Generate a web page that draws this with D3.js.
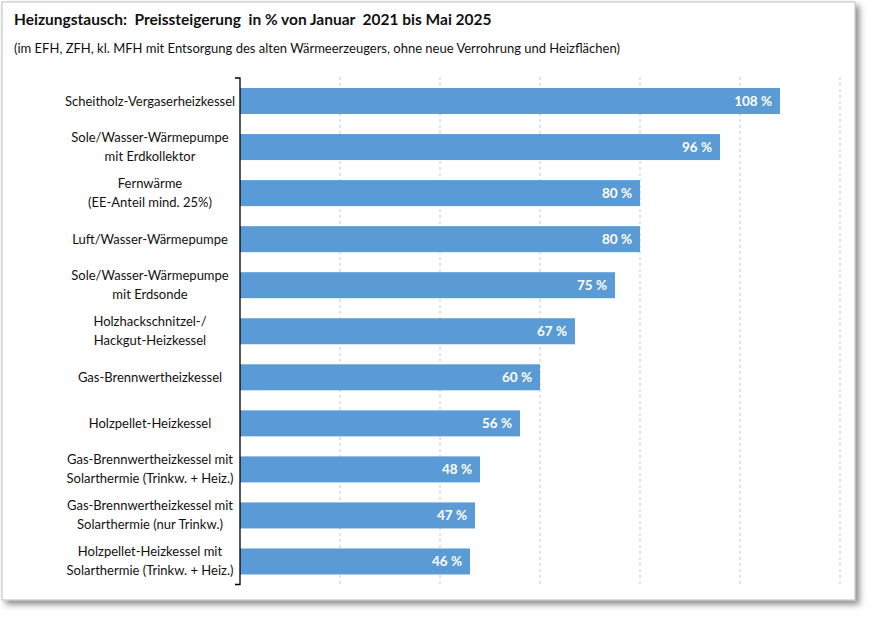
<!DOCTYPE html>
<html><head><meta charset="utf-8">
<script src="https://cdn.jsdelivr.net/npm/d3@7"></script>
<style>body{margin:0;background:#fff}svg{font-family:Lato,"Open Sans",sans-serif}</style>
</head><body><svg id="c" width="872" height="620"></svg>
<script>
const categories = [
  ["Scheitholz-Vergaserheizkessel"],
  ["Sole/Wasser-Wärmepumpe","mit Erdkollektor"],
  ["Fernwärme","(EE-Anteil mind. 25%)"],
  ["Luft/Wasser-Wärmepumpe"],
  ["Sole/Wasser-Wärmepumpe","mit Erdsonde"],
  ["Holzhackschnitzel-/","Hackgut-Heizkessel"],
  ["Gas-Brennwertheizkessel"],
  ["Holzpellet-Heizkessel"],
  ["Gas-Brennwertheizkessel mit","Solarthermie (Trinkw. + Heiz.)"],
  ["Gas-Brennwertheizkessel mit","Solarthermie (nur Trinkw.)"],
  ["Holzpellet-Heizkessel mit","Solarthermie (Trinkw. + Heiz.)"]
];
const values = [108,96,80,80,75,67,60,56,48,47,46];
const gridTicks = [20,40,60,80,100,120];
const title = "Heizungstausch:  Preissteigerung  in % von Januar  2021 bis Mai 2025";
const subtitle = "(im EFH, ZFH, kl. MFH mit Entsorgung des alten Wärmeerzeugers, ohne neue Verrohrung und Heizflächen)";

const svg = d3.select("#c");
const defs = svg.append("defs");
const f = defs.append("filter").attr("id","sh").attr("x","-5%").attr("y","-5%").attr("width","110%").attr("height","110%");
f.append("feDropShadow").attr("dx",4).attr("dy",4).attr("stdDeviation",3).attr("flood-color","#000").attr("flood-opacity",0.45);
svg.append("rect").attr("x",2).attr("y",2).attr("width",853).attr("height",598).attr("fill","#fff").attr("stroke","#bbb").attr("filter","url(#sh)");

svg.append("text").attr("x",14).attr("y",25).attr("font-size",15.5).attr("font-weight","bold").attr("fill","#111").style("white-space","pre").text(title);
svg.append("text").attr("x",14).attr("y",53).attr("font-size",13).attr("fill","#111").text(subtitle);

const x = d3.scaleLinear().domain([0,120]).range([240,840]);
const y = d3.scaleBand().domain(d3.range(values.length)).range([78,584.5]).paddingInner(0.435).paddingOuter(0.2175);

svg.append("g").selectAll("line").data(gridTicks).join("line")
  .attr("x1",d=>x(d)).attr("x2",d=>x(d)).attr("y1",77).attr("y2",585)
  .attr("stroke","#c8c8c8").attr("stroke-dasharray","3,3");

svg.append("g").selectAll("rect").data(values).join("rect")
  .attr("x",x(0)).attr("y",(d,i)=>y(i)).attr("width",d=>x(d)-x(0)).attr("height",y.bandwidth()).attr("fill","#5b9bd5");

svg.append("g").selectAll("text").data(values).join("text")
  .attr("x",d=>x(d)-8).attr("y",(d,i)=>y(i)+y.bandwidth()/2+5).attr("text-anchor","end")
  .attr("font-size",13.5).attr("font-weight","bold").attr("fill","#fff").text(d=>d+" %");

const ax = svg.append("g").attr("transform",`translate(${x(0)},0)`).call(d3.axisLeft(y).tickSize(0).tickFormat(""));
ax.select(".domain").attr("stroke","#000").attr("stroke-width",1.3).attr("d",`M-5,78H0V584.5H-5`);

const lab = svg.append("g").selectAll("text").data(categories).join("text")
  .attr("text-anchor","middle").attr("font-size",13).attr("fill","#111")
  .attr("transform",(d,i)=>`translate(150,${y(i)+y.bandwidth()/2})`);
lab.each(function(d){
  const t=d3.select(this); const n=d.length;
  d.forEach((s,k)=>t.append("tspan").attr("x",0).attr("y",(k-(n-1)/2)*19+4.5).text(s));
});
</script></body></html>
